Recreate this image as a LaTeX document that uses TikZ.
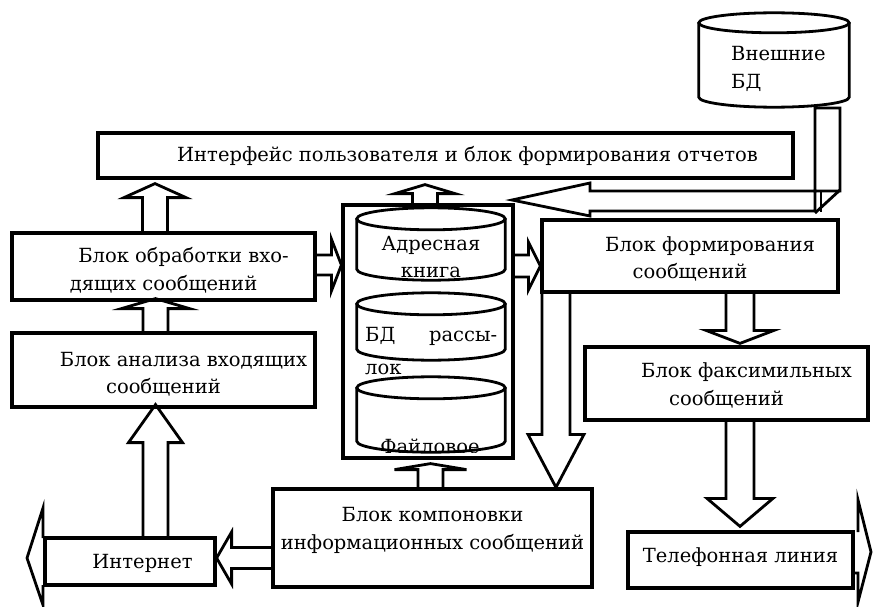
\documentclass[tikz,border=0pt]{standalone}
\usepackage{fontspec}
\setmainfont{DejaVu Serif}
\newfontfamily\blockfont{DejaVu Serif}
\usetikzlibrary{calc}

\tikzset{
  box/.style={draw, line width=3.2pt, rectangle, inner sep=0pt},
  cylspace/.style={rectangle, inner sep=0pt, draw=none},
  barrow/.style={draw, line width=2.8pt, line join=miter},
  cyl/.style={draw, line width=2.8pt},
  lbl/.style={inner sep=0pt, align=center},
}

% vertical block arrow: axis point, start, tip, half shaft, half head, signed head length (+ = upwards)
\newcommand\barV[6]{%
  \draw[barrow] let \p1=(#1), \p2=(#2), \p3=(#3) in
    ({\x1-#4pt},\y2) -- ({\x1-#4pt},{\y3-(#6pt)}) -- ({\x1-#5pt},{\y3-(#6pt)}) -- (\x1,\y3)
    -- ({\x1+#5pt},{\y3-(#6pt)}) -- ({\x1+#4pt},{\y3-(#6pt)}) -- ({\x1+#4pt},\y2);
}
% horizontal block arrow: axis point, start, tip, half shaft, half head, signed head length (+ = rightwards)
\newcommand\barH[6]{%
  \draw[barrow] let \p1=(#1), \p2=(#2), \p3=(#3) in
    (\x2,{\y1+#4pt}) -- ({\x3-(#6pt)},{\y1+#4pt}) -- ({\x3-(#6pt)},{\y1+#5pt}) -- (\x3,\y1)
    -- ({\x3-(#6pt)},{\y1-#5pt}) -- ({\x3-(#6pt)},{\y1-#4pt}) -- (\x2,{\y1-#4pt});
}
% database cylinder drawn over an invisible node: node name, half height of the ellipse
\newcommand\dbcylinder[2]{%
  \draw[cyl] let \p1=(#1.north west), \p2=(#1.south east), \n1={(\x2-\x1)/2} in
    (\x1,{\y1-#2pt}) -- (\x1,{\y2+#2pt})
    arc[start angle=180, end angle=360, x radius=\n1, y radius=#2pt]
    -- (\x2,{\y1-#2pt});
  \draw[cyl] let \p1=(#1.north west), \p2=(#1.south east), \n1={(\x2-\x1)/2} in
    ({(\x1+\x2)/2},{\y1-#2pt}) ellipse[x radius=\n1, y radius=#2pt];
}

\begin{document}
\begin{tikzpicture}[x=1pt, y=-1pt, font=\blockfont\fontsize{19.5}{27.5}\selectfont]
\fill[white] (0,0) rectangle (873,607);
\useasboundingbox (0,0) rectangle (873,607);

% blocks
\node[box, minimum width=695pt, minimum height=45pt] (ifc) at (445.5,155.5) {};
\node[box, minimum width=303pt, minimum height=67pt] (obr) at (163.5,266.5) {};
\node[box, minimum width=303pt, minimum height=74pt] (ana) at (163.5,370) {};
\node[box, minimum width=170pt, minimum height=47pt] (inet) at (130,561.5) {};
\node[box, minimum width=319pt, minimum height=98pt] (komp) at (432.5,538) {};
\node[box, minimum width=296pt, minimum height=72pt] (form) at (690,256) {};
\node[box, minimum width=283pt, minimum height=73pt] (fax) at (726.5,383.5) {};
\node[box, minimum width=225pt, minimum height=56pt] (tel) at (740.5,560) {};
\node[box, minimum width=170pt, minimum height=253pt] (cont) at (428,331.5) {};

% block captions
\node[lbl] (ifcT) at ($(ifc)+(0,0)$)
  {\hspace*{44pt}Интерфейс пользователя и блок формирования отчетов};
\node[lbl] (obrT) at ($(obr)+(0,4)$) {\hspace*{40pt}Блок обработки вхо-\\дящих сообщений};
\node[lbl] (anaT) at ($(ana)+(0,4)$) {\hspace*{40pt}Блок анализа входящих\\сообщений};
\node[lbl] (inetT) at ($(inet)+(12.5,2)$) {Интернет};
\node[lbl] (kompT) at ($(komp)+(0,4)$) {Блок компоновки\\информационных сообщений\\\mbox{}};
\node[lbl] (formT) at ($(form)+(0,3)$) {\hspace*{40pt}Блок формирования\\сообщений};
\node[lbl] (faxT) at ($(fax)+(0,2)$) {\hspace*{40pt}Блок факсимильных\\сообщений};
\node[lbl] (telT) at ($(tel)+(0,-3)$) {Телефонная линия};

% databases
\node[cylspace, minimum width=148pt, minimum height=72pt] (adr) at (431,244) {};
\node[cylspace, minimum width=148pt, minimum height=67pt] (ras) at (431,326.5) {};
\node[cylspace, minimum width=148pt, minimum height=75pt] (fil) at (431,414.5) {};
\node[cylspace, minimum width=150pt, minimum height=94pt] (ext) at (774,60) {};
\dbcylinder{adr}{11}
\dbcylinder{ras}{11}
\dbcylinder{fil}{11}
\dbcylinder{ext}{10}

\node[lbl] (adrT) at (431,257) {Адресная\\книга};
\node[lbl, anchor=west, align=left] (rasT) at (365,351)
  {\hbox to 132pt{БД\hfill рассы-}\\[5pt]лок};
\begin{scope}
  \clip (350,420) rectangle (510,452);
  \node[lbl] (filT) at (430,446) {Файловое};
\end{scope}
\node[lbl, anchor=west, align=left] (extT) at (731,69) {Внешние\\БД};

% block arrows between the blocks
\barV{155,0}{obr.north}{$(ifc.south)+(0,4)$}{12.5}{31}{14}
\barV{155.5,0}{ana.north}{$(obr.south)+(0,-3)$}{12.5}{34}{10}
\barV{155.5,0}{inet.north}{$(ana.south)+(0,-4)$}{12.5}{27}{38}
\barH{0,558}{komp.west}{inet.east}{10.5}{26}{-15}
\barH{0,265}{obr.east}{cont.west}{10}{26}{10}
\barH{0,266}{cont.east}{form.west}{11}{24}{12}
\barV{425,0}{cont.north}{$(ifc.south)+(0,5)$}{12.5}{30}{9}
\barV{740,0}{form.south}{$(fax.north)+(0,-2)$}{14}{34}{-13}
\barV{740,0}{fax.south}{$(tel.north)+(0,-4)$}{14}{33}{-28}
\barV{556,0}{form.south}{komp.north}{14}{28}{-53}
\barV{430.5,0}{komp.north}{$(cont.south)+(0,4)$}{12.5}{36}{6}

% outgoing heads of the external lines
\coordinate (netTip) at (27,558);
\draw[barrow] (43,538) -- (43,508) -- (netTip) -- (43,605) -- (43,585);
\coordinate (telTip) at (871,552);
\draw[barrow] (858,532) -- (858,500) -- (telTip) -- (858,602) -- (858,573) -- (853,573);

% bent arrow from the external databases
\coordinate (dbTip) at (512,200);
\draw[barrow] (815,212) -- (815,108) -- (840,108) -- (840,191) -- (590,191)
  -- (590,183) -- (dbTip) -- (590,216) -- (590,211) -- (815,211);
\draw[barrow] (815,213) -- (840,190);
\draw[barrow] (821,191) -- (821,212);
\end{tikzpicture}
\end{document}
